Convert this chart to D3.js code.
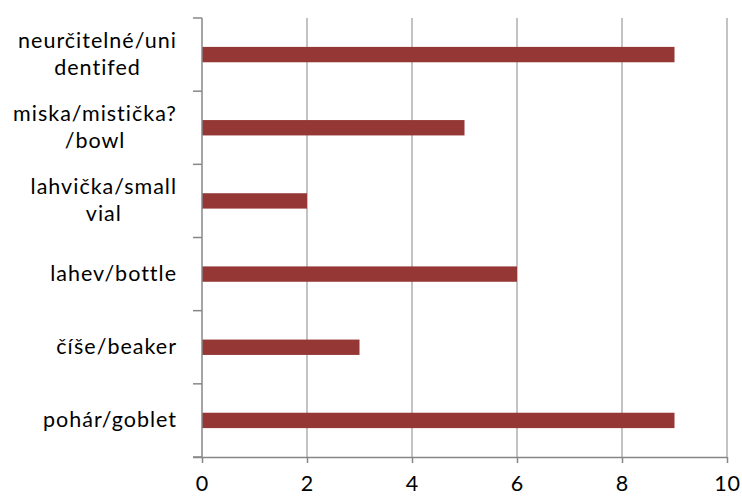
<!DOCTYPE html>
<html>
<head>
<meta charset="utf-8">
<script src="https://cdn.jsdelivr.net/npm/d3@7"></script>
<style>
  body { margin: 0; background: #fff; }
  text { font-family: Lato, "Open Sans", sans-serif; fill: #000; }
</style>
</head>
<body>
<script>
// Chart data, top to bottom
var categories = [
    "neurčitelné/uni\ndentifed",
    "miska/mistička?\n/bowl",
    "lahvička/small\nvial",
    "lahev/bottle",
    "číše/beaker",
    "pohár/goblet"
];
var counts = [9, 5, 2, 6, 3, 9];
var xTicks = [0, 2, 4, 6, 8, 10];

var w = 742;
var h = 499;
var margin = {top: 18, right: 15, bottom: 42, left: 202};

var svg = d3.select("body")
    .append("svg")
    .attr("width", w)
    .attr("height", h);

var x = d3.scaleLinear()
    .domain([0, 10])
    .range([margin.left, w - margin.right]);

var y = d3.scaleBand()
    .domain(categories)
    .range([margin.top, h - margin.bottom]);

// vertical gridlines
svg.selectAll("line.grid")
    .data(xTicks.slice(1))
    .enter()
    .append("line")
    .attr("class", "grid")
    .attr("x1", function(d) { return x(d); })
    .attr("x2", function(d) { return x(d); })
    .attr("y1", margin.top)
    .attr("y2", h - margin.bottom)
    .attr("stroke", "#b4b4b4")
    .attr("stroke-width", 1.6);

// bars
var barH = y.bandwidth() * 0.21;
svg.selectAll("rect.bar")
    .data(categories)
    .enter()
    .append("rect")
    .attr("class", "bar")
    .attr("x", x(0))
    .attr("y", function(d) { return y(d) + y.bandwidth() / 2 - barH / 2; })
    .attr("width", function(d, i) { return x(counts[i]) - x(0); })
    .attr("height", barH)
    .attr("fill", "#953735");

// x axis
var xAxis = svg.append("g")
    .attr("transform", "translate(0," + (h - margin.bottom) + ")")
    .call(d3.axisBottom(x).tickValues(xTicks).tickSize(6).tickSizeOuter(0).tickPadding(13));
xAxis.select(".domain").attr("stroke", "#878787").attr("stroke-width", 1.5)
    .attr("d", "M" + (x(0) - 9) + ",0.5H" + x(10));
xAxis.selectAll(".tick line").attr("stroke", "#878787").attr("stroke-width", 1.5);
xAxis.selectAll(".tick text")
    .style("font-family", "Lato, 'Open Sans', sans-serif")
    .style("font-size", "21.5px")
    .style("letter-spacing", "0.8px")
    .attr("fill", "#000");

// y axis line with ticks at band edges
var yAxis = svg.append("g");
yAxis.append("line")
    .attr("x1", x(0)).attr("x2", x(0))
    .attr("y1", margin.top).attr("y2", h - margin.bottom)
    .attr("stroke", "#878787").attr("stroke-width", 1.5);
var edges = categories.map(function(d) { return y(d); }).concat([h - margin.bottom]);
yAxis.selectAll("line.ytick")
    .data(edges)
    .enter()
    .append("line")
    .attr("class", "ytick")
    .attr("x1", x(0) - 9).attr("x2", x(0))
    .attr("y1", function(d) { return d; })
    .attr("y2", function(d) { return d; })
    .attr("stroke", "#878787").attr("stroke-width", 1.5);

// category labels: block right-aligned, lines centred within the block
var lineH = 27;
var labelRight = 177;
svg.selectAll("text.cat")
    .data(categories)
    .enter()
    .append("text")
    .attr("class", "cat")
    .attr("text-anchor", "middle")
    .style("font-size", "21.5px")
    .style("letter-spacing", "1px")
    .each(function(d) {
        var lines = d.split("\n");
        var cy = y(d) + y.bandwidth() / 2;
        var start = cy - (lines.length - 1) * lineH / 2 + 7;
        var t = d3.select(this);
        var spans = lines.map(function(l, j) {
            return t.append("tspan")
                .attr("y", start + j * lineH)
                .text(l);
        });
        var maxW = d3.max(spans, function(s) { return s.node().getComputedTextLength(); });
        spans.forEach(function(s) { s.attr("x", labelRight - maxW / 2); });
    });
</script>
</body>
</html>
